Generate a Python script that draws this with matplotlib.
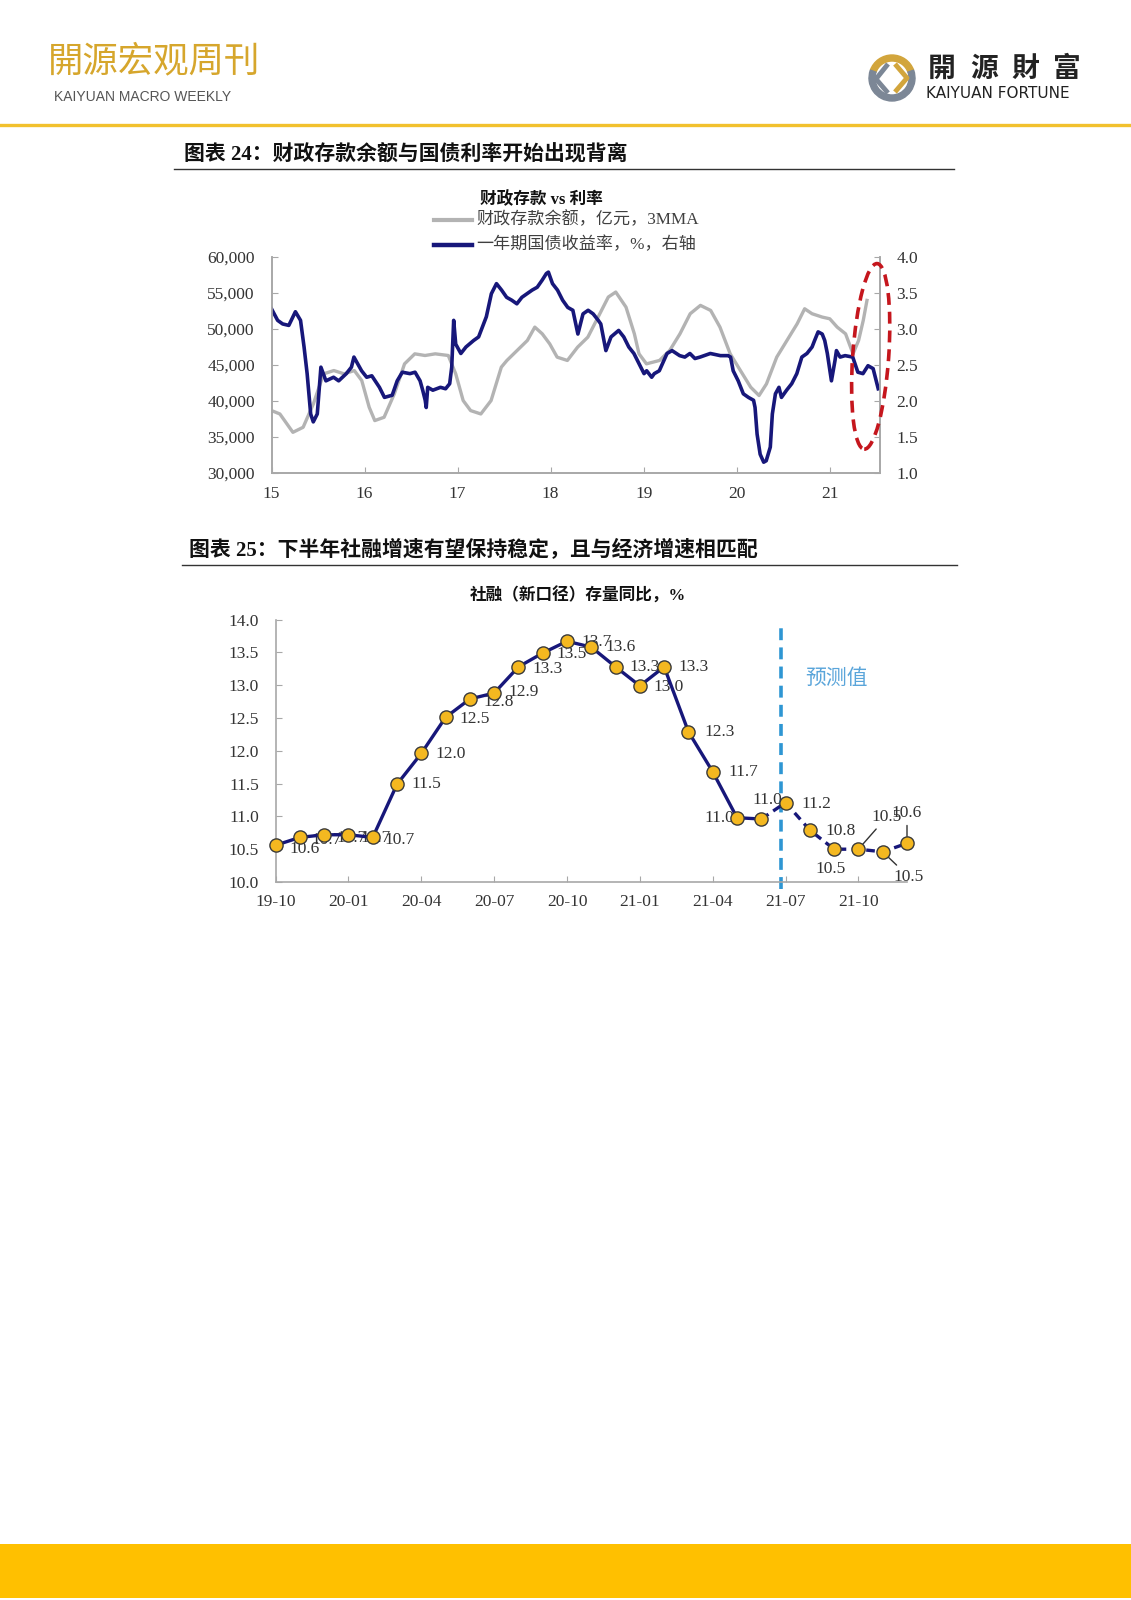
import numpy as np
import matplotlib.pyplot as plt
from matplotlib.patches import Ellipse, Rectangle, Wedge
from matplotlib.transforms import ScaledTranslation

W, H = 1131, 1600
plt.rcParams['font.family'] = ['Liberation Serif', 'Noto Sans CJK SC', 'DejaVu Sans']
CJK = ['Noto Sans CJK SC', 'DejaVu Sans']

# ---- 图表24 数据 ----
# 财政存款余额（亿元，3MMA），横轴为年份（15 = 2015年初）
deposit_t = [15.00, 15.09, 15.23, 15.34, 15.45, 15.56, 15.67, 15.78, 15.89, 15.97,
             16.05, 16.11, 16.21, 16.32, 16.43, 16.54, 16.65, 16.76, 16.90, 16.98,
             17.06, 17.14, 17.25, 17.36, 17.47, 17.53, 17.64, 17.75, 17.83, 17.91,
             17.99, 18.07, 18.18, 18.29, 18.40, 18.51, 18.62, 18.70, 18.81, 18.90,
             18.95, 19.03, 19.17, 19.28, 19.39, 19.50, 19.61, 19.72, 19.82, 19.93,
             20.04, 20.15, 20.24, 20.32, 20.43, 20.54, 20.65, 20.73, 20.81, 20.92,
             21.00, 21.08, 21.17, 21.25, 21.31, 21.36, 21.40]
deposit_val = [38670, 38200, 35650, 36350, 39600, 43770, 44230, 43770, 44230, 42840,
               39130, 37280, 37740, 40990, 45160, 46550, 46320, 46550, 46320, 43770,
               40060, 38670, 38200, 40060, 44700, 45630, 47020, 48410, 50260, 49330,
               47940, 46090, 45630, 47480, 48870, 51650, 54440, 55130, 53040, 49330,
               46550, 45160, 45630, 47020, 49330, 52120, 53280, 52580, 50260, 46550,
               44230, 41920, 40760, 42380, 46090, 48410, 50730, 52810, 52120, 51650,
               51420, 50260, 49330, 46550, 48410, 51190, 53970]

# 一年期国债收益率（%，右轴）
yield_t = [15.000, 15.066, 15.120, 15.186, 15.257, 15.312, 15.350, 15.383, 15.421, 15.449,
           15.492, 15.531, 15.585, 15.667, 15.722, 15.804, 15.859, 15.886, 15.968, 16.023,
           16.078, 16.160, 16.214, 16.297, 16.351, 16.406, 16.488, 16.543, 16.597, 16.625,
           16.652, 16.663, 16.679, 16.734, 16.816, 16.871, 16.915, 16.937, 16.958, 16.980,
           17.035, 17.090, 17.172, 17.226, 17.309, 17.363, 17.418, 17.473, 17.527, 17.582,
           17.637, 17.691, 17.746, 17.801, 17.856, 17.910, 17.954, 17.976, 18.020, 18.074,
           18.129, 18.184, 18.239, 18.293, 18.348, 18.403, 18.457, 18.512, 18.539, 18.594,
           18.649, 18.731, 18.786, 18.840, 18.895, 18.950, 19.004, 19.032, 19.086, 19.114,
           19.168, 19.251, 19.305, 19.387, 19.442, 19.497, 19.551, 19.606, 19.716, 19.825,
           19.907, 19.934, 19.962, 20.016, 20.071, 20.126, 20.181, 20.197, 20.219, 20.252,
           20.290, 20.317, 20.361, 20.383, 20.416, 20.454, 20.481, 20.536, 20.591, 20.646,
           20.700, 20.755, 20.810, 20.837, 20.875, 20.919, 20.946, 20.974, 21.018, 21.056,
           21.072, 21.111, 21.165, 21.247, 21.302, 21.357, 21.411, 21.466, 21.521]
yield_val = [3.28, 3.12, 3.07, 3.05, 3.24, 3.12, 2.75, 2.38, 1.82, 1.71,
             1.82, 2.47, 2.28, 2.33, 2.28, 2.38, 2.47, 2.61, 2.42, 2.33,
             2.35, 2.19, 2.05, 2.08, 2.28, 2.40, 2.38, 2.40, 2.28, 2.15,
             2.01, 1.91, 2.19, 2.15, 2.19, 2.17, 2.24, 2.47, 3.12, 2.79,
             2.66, 2.75, 2.84, 2.89, 3.17, 3.49, 3.63, 3.54, 3.44, 3.40,
             3.35, 3.44, 3.49, 3.54, 3.58, 3.68, 3.77, 3.79, 3.63, 3.54,
             3.40, 3.30, 3.26, 2.93, 3.21, 3.26, 3.21, 3.12, 3.07, 2.70,
             2.89, 2.98, 2.89, 2.75, 2.66, 2.52, 2.38, 2.42, 2.33, 2.38,
             2.42, 2.66, 2.70, 2.63, 2.61, 2.66, 2.59, 2.61, 2.66, 2.63,
             2.63, 2.61, 2.42, 2.28, 2.10, 2.05, 2.01, 1.91, 1.54, 1.26,
             1.15, 1.17, 1.36, 1.82, 2.10, 2.19, 2.05, 2.15, 2.24, 2.38,
             2.61, 2.66, 2.75, 2.84, 2.96, 2.93, 2.84, 2.66, 2.28, 2.56,
             2.70, 2.61, 2.63, 2.61, 2.40, 2.38, 2.49, 2.45, 2.17]

year_ticks = [15, 16, 17, 18, 19, 20, 21]
year_labels = ['15', '16', '17', '18', '19', '20', '21']

# ---- 图表25 数据 ----
tsf_months = ['19-10', '19-11', '19-12', '20-01', '20-02', '20-03', '20-04', '20-05', '20-06',
              '20-07', '20-08', '20-09', '20-10', '20-11', '20-12', '21-01', '21-02', '21-03',
              '21-04', '21-05', '21-06', '21-07', '21-08', '21-09', '21-10', '21-11', '21-12']
tsf_val = [10.56, 10.68, 10.72, 10.72, 10.68, 11.49, 11.96, 12.51, 12.79,
           12.88, 13.28, 13.49, 13.67, 13.58, 13.28, 12.99, 13.28, 12.29,
           11.68, 10.98, 10.96, 11.21, 10.79, 10.50, 10.50, 10.46, 10.59]
forecast_from = 20  # 从 21-06 起虚线（预测）

navy = '#17177A'
grey_line = '#B3B3B3'
axis_grey = '#A8A8A8'
txt = '#333333'

fig = plt.figure(figsize=(W / 100, H / 100), dpi=100)

# 页面装饰层（像素坐标）
bg = fig.add_axes([0, 0, 1, 1])
bg.set_xlim(0, W)
bg.set_ylim(H, 0)
bg.axis('off')

bg.text(48, 61, '開源宏观周刊', fontsize=25.5, color='#D6A62C', family=CJK,
        fontweight='light', va='center', ha='left')
bg.text(54, 97, 'KAIYUAN MACRO WEEKLY', fontsize=10, color='#555555',
        family=['Liberation Sans', 'DejaVu Sans'], va='center', ha='left')

# logo
bg.add_patch(Wedge((892, 78), 23, 200, 340, width=6, color='#D2A53C'))
bg.add_patch(Wedge((892, 78), 23, 340, 560, width=6, color='#7C8796'))
bg.plot([888, 876, 888], [64, 79, 93], color='#7C8796', lw=3.5, solid_capstyle='butt')
bg.plot([895, 907, 895], [64, 78, 92], color='#D2A53C', lw=3.5, solid_capstyle='butt')
for ch, cx in zip('開源財富', [942, 984, 1025, 1067]):
    bg.text(cx, 69, ch, fontsize=20, family=CJK, fontweight='bold', color='#222222',
            ha='center', va='center')
bg.text(926, 93, 'KAIYUAN FORTUNE', fontsize=11, family=['DejaVu Sans'], color='#222222',
        ha='left', va='center')

bg.plot([0, W], [125, 125], color='#F2C12E', lw=2.4)
bg.add_patch(Rectangle((0, 1544), W, 54, color='#FFC000', lw=0))

# 图表标题
bg.text(184, 155, '图表 24：财政存款余额与国债利率开始出现背离', fontsize=15,
        fontweight='bold', color='#111111', va='center', ha='left')
bg.plot([174, 954], [168.5, 168.5], color='#333333', lw=1.0)
bg.text(189, 551, '图表 25：下半年社融增速有望保持稳定，且与经济增速相匹配', fontsize=15,
        fontweight='bold', color='#111111', va='center', ha='left')
bg.plot([182, 957], [564.5, 564.5], color='#333333', lw=1.0)

# ---- 图表24 ----
bg.text(541, 200, '财政存款 vs 利率', fontsize=12, fontweight='bold', color='#111111',
        ha='center', va='center')
bg.plot([434, 472], [219.5, 219.5], color=grey_line, lw=3)
bg.text(476, 219.5, '财政存款余额，亿元，3MMA', fontsize=12.3, color='#404040', va='center')
bg.plot([434, 472], [245, 245], color=navy, lw=3.2)
bg.text(476, 245, '一年期国债收益率，%，右轴', fontsize=12.3, color='#404040', va='center')

ax1 = fig.add_axes([271.5 / W, 1 - 473 / H, (880 - 271.5) / W, (473 - 257) / H])
ax1.set_facecolor('none')
ax1.plot(deposit_t, deposit_val, color=grey_line, lw=2.4)
ax1.set_xlim(15, 21.54)
ax1.set_ylim(30000, 60000)
ax1.set_yticks(range(30000, 60001, 5000))
ax1.set_yticklabels([f'{v:,}' for v in range(30000, 60001, 5000)])
ax1.set_xticks(year_ticks)
ax1.set_xticklabels(year_labels)

ax2 = ax1.twinx()
ax2.plot(yield_t, yield_val, color=navy, lw=2.6)
ax2.set_ylim(1, 4)
ax2.set_yticks(np.arange(1, 4.01, 0.5))
ax2.set_yticklabels([f'{v:.1f}' for v in np.arange(1, 4.01, 0.5)])

for a in (ax1, ax2):
    a.spines['top'].set_visible(False)
    for s in ('left', 'right', 'bottom'):
        a.spines[s].set_color(axis_grey)
        a.spines[s].set_linewidth(1.2)
ax1.tick_params(axis='y', direction='in', length=4, color=axis_grey, labelsize=12.5,
                labelcolor=txt, pad=12)
ax1.tick_params(axis='x', direction='in', length=4, color=axis_grey, labelsize=12.5,
                labelcolor=txt, pad=9)
ax2.tick_params(axis='y', direction='in', length=4, color=axis_grey, labelsize=12.5,
                labelcolor=txt, pad=12)

# 红色虚线椭圆
ell_tr = fig.dpi_scale_trans + ScaledTranslation(21.44, 2.62, ax2.transData)
ax2.add_patch(Ellipse((0, 0), 0.36, 1.86, angle=-4, transform=ell_tr, fill=False,
                      ec='#C5161D', lw=2.6, ls=(0, (3.3, 1.9)), clip_on=False, zorder=5))

# ---- 图表25 ----
bg.text(578, 596, '社融（新口径）存量同比，%', fontsize=12, fontweight='bold', color='#111111',
        ha='center', va='center')

ax3 = fig.add_axes([275.6 / W, 1 - 882 / H, (907 - 275.6) / W, (882 - 619.6) / H])
ax3.set_facecolor('none')
x = np.arange(len(tsf_val))
ax3.plot(x[:forecast_from + 1], tsf_val[:forecast_from + 1], color=navy, lw=2.4, zorder=3)
ax3.plot(x[forecast_from:], tsf_val[forecast_from:], color=navy, lw=2.4,
         ls=(0, (2.6, 1.7)), zorder=3)
ax3.plot(x, tsf_val, ls='none', marker='o', ms=9.5, mfc='#F4B820', mec='#3A3A3A',
         mew=1.0, zorder=4, clip_on=False)
ax3.set_xlim(0, 26)
ax3.set_ylim(10, 14)
ax3.set_yticks(np.arange(10, 14.01, 0.5))
ax3.set_yticklabels([f'{v:.1f}' for v in np.arange(10, 14.01, 0.5)])
ax3.set_xticks(x[::3])
ax3.set_xticklabels(tsf_months[::3])
for s in ('top', 'right'):
    ax3.spines[s].set_visible(False)
for s in ('left', 'bottom'):
    ax3.spines[s].set_color(axis_grey)
    ax3.spines[s].set_linewidth(1.2)
ax3.tick_params(axis='y', direction='in', length=4, color=axis_grey, labelsize=12.5,
                labelcolor=txt, pad=12)
ax3.tick_params(axis='x', direction='in', length=4, color=axis_grey, labelsize=12.5,
                labelcolor=txt, pad=8.5)

# 数据标签位置（像素偏移：右, 上）
label_pos = [(14, -4, 'left'), (12, -3, 'left'), (12, -3, 'left'), (12, -3, 'left'),
             (12, -3, 'left'), (14, 0, 'left'), (14, -1, 'left'), (14, -2, 'left'),
             (14, -3, 'left'), (14, 1, 'left'), (14, -2, 'left'), (14, -1, 'left'),
             (14, -1, 'left'), (14, 0, 'left'), (14, 0, 'left'), (14, -1, 'left'),
             (14, 0, 'left'), (16, 0, 'left'), (16, 0, 'left'), (-3, 0, 'right'),
             (6, 19, 'center'), (16, -1, 'left'), (16, -1, 'left'), (-4, -20, 'center'),
             (13, 32, 'left'), (11, -25, 'left'), (0, 30, 'center')]
leaders = {24, 25, 26}
for i, (xi, v) in enumerate(zip(x, tsf_val)):
    dx, dy, ha = label_pos[i]
    kw = {}
    if i in leaders:
        kw['arrowprops'] = dict(arrowstyle='-', color='#333333', lw=1.0, shrinkA=1, shrinkB=5)
    ax3.annotate(f'{v:.1f}', (xi, v), xytext=(dx, dy), textcoords='offset pixels',
                 ha=ha, va='center', fontsize=12.5, color=txt, zorder=2,
                 annotation_clip=False, **kw)

ax3.axvline(20.82, ymin=-0.025, ymax=0.985, color='#2E96D3', lw=2.6,
            ls=(0, (3.3, 2.0)), clip_on=False, zorder=2)

bg.text(837, 678, '预测值', fontsize=15, family=CJK, color='#5AA5DA',
        ha='center', va='center')

fig.savefig('out.png', dpi=100)
